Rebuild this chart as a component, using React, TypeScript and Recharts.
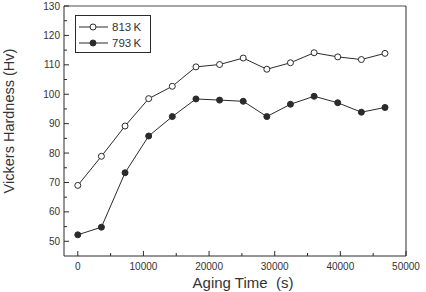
import React from "react";
import {
  LineChart,
  Line,
  XAxis,
  YAxis,
  ReferenceLine,
  Legend,
} from "recharts";

// aging time in seconds (one reading per hour)
const times = [0, 3600, 7200, 10800, 14400, 18000, 21600, 25200, 28800, 32400, 36000, 39600, 43200, 46800];
const hv813 = [69.0, 78.9, 89.2, 98.5, 102.7, 109.3, 110.1, 112.3, 108.5, 110.7, 114.1, 112.7, 111.8, 113.9];
const hv793 = [52.2, 54.8, 73.3, 85.8, 92.4, 98.4, 98.0, 97.6, 92.4, 96.6, 99.3, 97.1, 93.9, 95.5];

const xTicks = [0, 5000, 10000, 15000, 20000, 25000, 30000, 35000, 40000, 45000, 50000];
const yTicks = [50, 55, 60, 65, 70, 75, 80, 85, 90, 95, 100, 105, 110, 115, 120, 125, 130];

const FONT = "'Liberation Sans', Arial, sans-serif";
const INK = "#2b2b2b";

const data = times.map((t, i) => ({ t, k813: hv813[i], k793: hv793[i] }));

function XTick(props: any) {
  const { x, y, payload } = props;
  const major = payload.value % 10000 === 0;
  return (
    <g>
      <line x1={x} x2={x} y1={y} y2={y - (major ? 5 : 3)} stroke={INK} />
      {major && (
        <text x={x} y={y + 14} textAnchor="middle" fontSize={10} fill="#333" fontFamily={FONT}>
          {payload.value}
        </text>
      )}
    </g>
  );
}

function YTick(props: any) {
  const { x, y, payload } = props;
  const major = payload.value % 10 === 0;
  return (
    <g>
      <line x1={x} x2={x + (major ? 5 : 3)} y1={y} y2={y} stroke={INK} />
      {major && (
        <text x={x - 4} y={y + 3.5} textAnchor="end" fontSize={10} fill="#333" fontFamily={FONT}>
          {payload.value}
        </text>
      )}
    </g>
  );
}

function LegendBox() {
  const rows = [
    { name: "813\u2009K", fill: "#fff" },
    { name: "793\u2009K", fill: INK },
  ];
  return (
    <div
      style={{
        border: `1px solid ${INK}`,
        width: 76,
        height: 38,
        boxSizing: "border-box",
        padding: "3px 0 0 3px",
        background: "#fff",
      }}
    >
      {rows.map((r) => (
        <div key={r.name} style={{ display: "flex", alignItems: "center", height: 16 }}>
          <svg width={30} height={12}>
            <line x1={0} x2={29} y1={6} y2={6} stroke={INK} />
            <circle cx={14} cy={6} r={3} fill={r.fill} stroke={INK} />
          </svg>
          <span style={{ fontFamily: FONT, fontSize: 11.5, color: "#333", marginLeft: 3 }}>{r.name}</span>
        </div>
      ))}
    </div>
  );
}

export default function App() {
  return (
    <div style={{ position: "absolute", left: 0, top: 0 }}>
      <LineChart width={426} height={292} data={data} margin={{ top: 6, right: 20, bottom: 6, left: 0 }}>
        <XAxis
          dataKey="t"
          type="number"
          domain={[-2100, 50000]}
          ticks={xTicks}
          interval={0}
          height={30}
          stroke={INK}
          tickSize={0}
          tickMargin={0}
          tick={<XTick />}
          allowDataOverflow
          label={{
            content: () => (
              <text x={243} y={288} textAnchor="middle" fontSize={15} fill="#333" fontFamily={FONT}>
                {"Aging Time \u00a0(s)"}
              </text>
            ),
          }}
        />
        <YAxis
          type="number"
          domain={[45, 130]}
          ticks={yTicks}
          interval={0}
          width={64}
          stroke={INK}
          tickSize={0}
          tickMargin={0}
          tick={<YTick />}
          allowDataOverflow
          label={{
            content: () => (
              <text
                x={14}
                y={121}
                transform="rotate(-90 14 121)"
                textAnchor="middle"
                fontSize={14.5}
                fill="#333"
                fontFamily={FONT}
              >
                Vickers Hardness (Hv)
              </text>
            ),
          }}
        />
        <ReferenceLine y={130} stroke="#888" strokeWidth={1.5} />
        <ReferenceLine x={50000} stroke={INK} />
        <Legend
          layout="horizontal"
          verticalAlign="middle"
          align="center"
          wrapperStyle={{ top: 15, left: 75, width: 76 }}
          content={() => <LegendBox />}
        />
        <Line
          dataKey="k813"
          stroke={INK}
          strokeWidth={1}
          dot={{ r: 3, fill: "#fff", stroke: INK, strokeWidth: 1 }}
          isAnimationActive={false}
        />
        <Line
          dataKey="k793"
          stroke={INK}
          strokeWidth={1}
          dot={{ r: 3, fill: INK, stroke: INK, strokeWidth: 1 }}
          isAnimationActive={false}
        />
      </LineChart>
    </div>
  );
}
